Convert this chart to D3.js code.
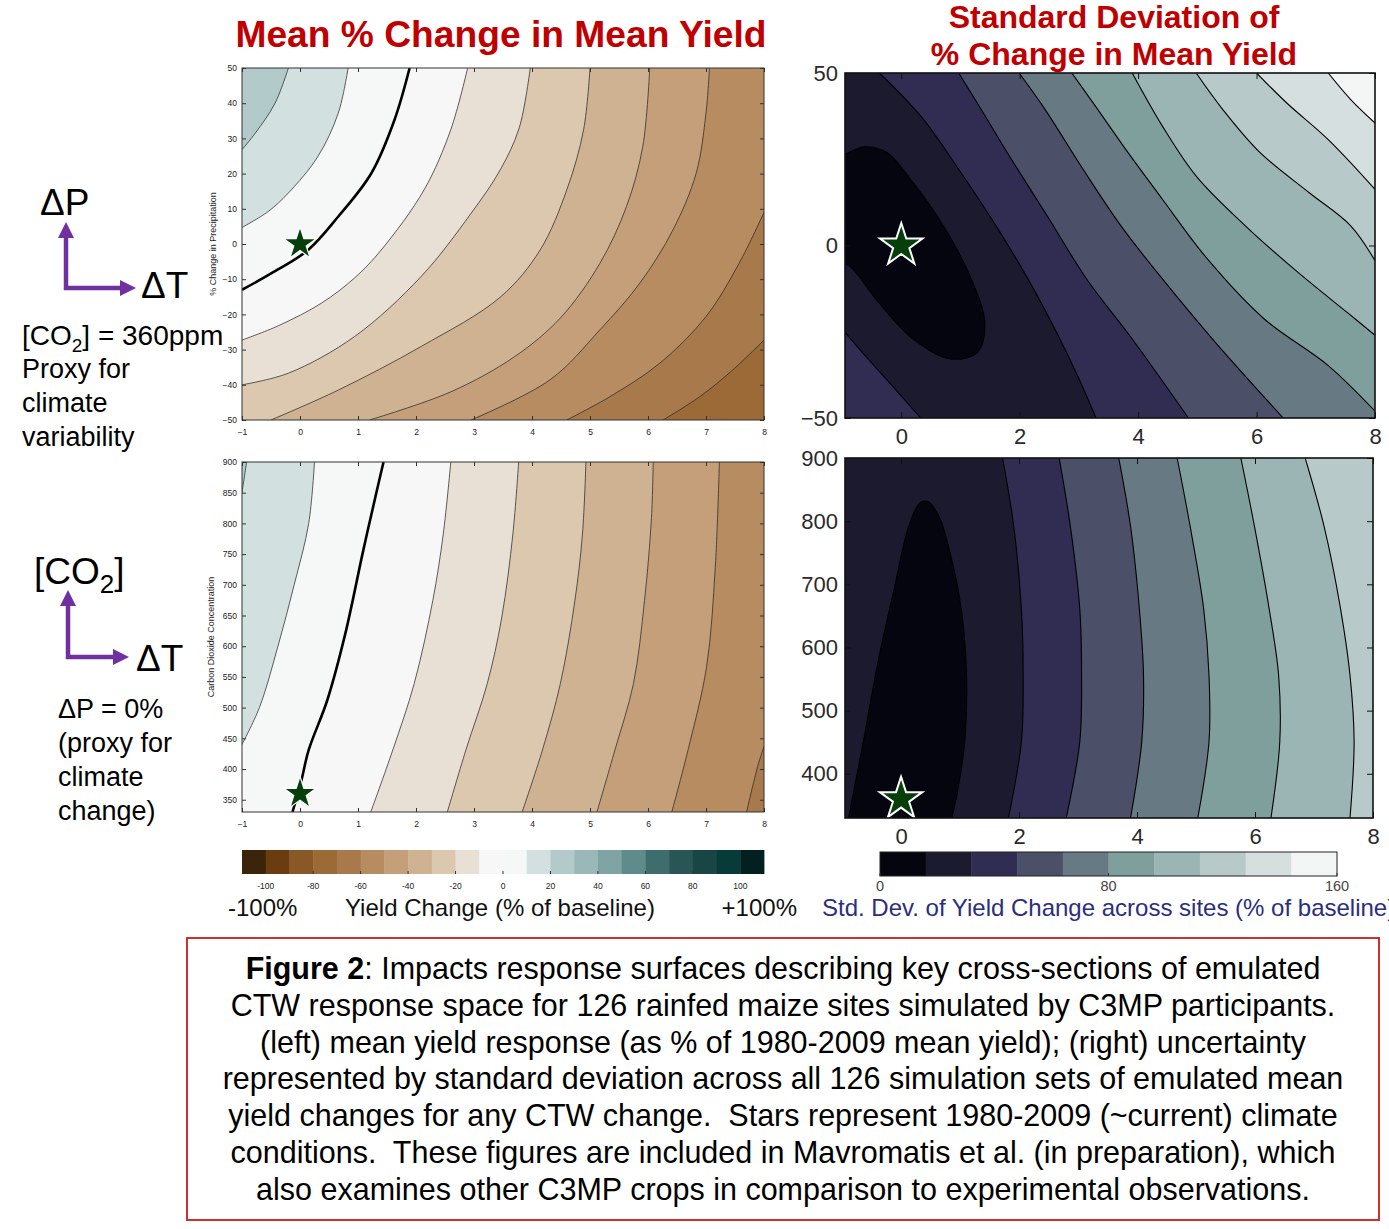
<!DOCTYPE html>
<html>
<head>
<meta charset="utf-8">
<script src="https://cdn.jsdelivr.net/npm/d3@7/dist/d3.min.js"></script>
<style>
  body { margin: 0; background: #ffffff; }
  svg { display: block; font-family: "Liberation Sans", Arial, sans-serif; }
</style>
</head>
<body>
<svg id="fig" width="1389" height="1229"></svg>
<script>
// ---------- axis ticks ----------
const meanTempTicks = [-1, 0, 1, 2, 3, 4, 5, 6, 7, 8];
const precipTicks = [-50, -40, -30, -20, -10, 0, 10, 20, 30, 40, 50];
const co2Ticks = [350, 400, 450, 500, 550, 600, 650, 700, 750, 800, 850, 900];
const sdTempTicks = [0, 2, 4, 6, 8];
const sdPrecipTicks = [-50, 0, 50];
const sdCo2Ticks = [400, 500, 600, 700, 800, 900];

// ---------- colour levels ----------
const meanLevels = [-100, -90, -80, -70, -60, -50, -40, -30, -20, -10, 0, 10, 20, 30, 40, 50, 60, 70, 80, 90, 100];
const meanPalette = ['#3b2409', '#6a3c0f', '#8a5827', '#9b6a37', '#a87a4b', '#b68c60', '#c49f79', '#cfb291',
  '#dcc8af', '#e9e0d5', '#f7f7f7', '#f6f7f7', '#d3e0e0', '#b3caca', '#9ab8b8', '#80a4a4', '#5f8b8b',
  '#3f6c6c', '#2a5555', '#1a4545', '#063b38', '#022020'];
const meanBarTicks = [-100, -80, -60, -40, -20, 0, 20, 40, 60, 80, 100];

const sdLevels = [16, 32, 48, 64, 80, 96, 112, 128, 144];
const sdPalette = ['#05050f', '#1b1a2e', '#302c52', '#4b5068', '#677a83', '#7f9f9d', '#9bb5b4',
  '#b8c9c9', '#d6dfdf', '#f4f6f6'];
const sdBarTicks = [0, 80, 160];

// current climate (1980-2009): no warming, no precipitation change, 360 ppm CO2
const baselineClimate = { dT: 0, dP: 0, co2: 360 };

// ---------- mean yield change, temperature x precipitation (CO2 = 360 ppm) ----------
const meanPrecipContours = [
  { level: 20, side: 'lowerRight', pts: [[-1, 26.8], [-0.77, 31.5], [-0.43, 40], [-0.2, 50]] },
  { level: 10, side: 'lowerRight', pts: [[-1, 4.7], [-0.55, 9.2], [-0.2, 14.5], [0.31, 24.9], [0.66, 37.2], [0.83, 50]] },
  { level: 0, side: 'lowerRight', pts: [[-1, -13], [-0.49, -8.3], [0.14, -1.7], [0.66, 7.8], [1.23, 20.1], [1.63, 35.3], [1.89, 50]] },
  { level: -10, side: 'lowerRight', pts: [[-1, -27.3], [-0.37, -23.2], [0.37, -16.8], [0.95, -9.5], [1.4, -1.7], [2.14, 15.4], [2.6, 32.5], [2.89, 50]] },
  { level: -20, side: 'lowerRight', pts: [[-1, -40], [-0.2, -36.7], [0.94, -26.3], [2.09, -9.2], [2.94, 8.5], [3.45, 21], [3.78, 33], [3.97, 50]] },
  { level: -30, side: 'lowerRight', pts: [[-0.5, -50], [0.66, -41.5], [2.09, -29.1], [3.46, -15], [4.14, -1.7], [4.6, 15.4], [4.89, 32.5], [5.0, 50]] },
  { level: -40, side: 'lowerRight', pts: [[1.2, -50], [2.6, -42], [3.7, -32], [4.49, -21], [5.17, -5.5], [5.63, 10.7], [5.91, 27.7], [6.03, 50]] },
  { level: -50, side: 'lowerRight', pts: [[2.95, -50], [4.31, -38.6], [5.17, -24.4], [5.86, -11.1], [6.43, 4], [6.83, 20.1], [7.0, 37.2], [7.06, 50]] },
  { level: -60, side: 'lowerRight', pts: [[4.6, -50], [5.34, -43.4], [6.2, -33.9], [7.0, -20.6], [7.57, -5.5], [8, 9]] },
  { level: -70, side: 'lowerRight', pts: [[6.26, -50], [6.89, -43.4], [7.46, -35.8], [8, -27.3]] }
];

// ---------- mean yield change, temperature x CO2 (no precipitation change) ----------
const meanCo2Contours = [
  { level: 20, side: 'lowerRight', pts: [[-1, 850], [-0.96, 875], [-0.92, 900]] },
  { level: 10, side: 'lowerRight', pts: [[-1, 440], [-0.7, 500], [-0.38, 600], [-0.1, 700], [0.15, 800], [0.25, 900]] },
  { level: 0, side: 'lowerRight', pts: [[-0.13, 330], [0.02, 380], [0.15, 431], [0.47, 512], [0.78, 620], [1.09, 755.7], [1.35, 863.8], [1.44, 900]] },
  { level: -10, side: 'lowerRight', pts: [[1.22, 330], [1.6, 431], [1.97, 539.5], [2.29, 674.6], [2.47, 782.7], [2.6, 900]] },
  { level: -20, side: 'lowerRight', pts: [[2.54, 330], [2.86, 431], [3.23, 539.5], [3.48, 647.6], [3.67, 782.7], [3.77, 900]] },
  { level: -30, side: 'lowerRight', pts: [[3.83, 330], [4.18, 431], [4.49, 539.5], [4.74, 674.6], [4.87, 782.7], [4.93, 900]] },
  { level: -40, side: 'lowerRight', pts: [[5.12, 330], [5.43, 431], [5.75, 539.5], [5.94, 674.6], [6.06, 809.7], [6.09, 900]] },
  { level: -50, side: 'lowerRight', pts: [[6.41, 330], [6.69, 431], [7.01, 566.5], [7.16, 728.6], [7.23, 900]] },
  { level: -60, side: 'lowerRight', pts: [[7.7, 330], [7.89, 404], [8, 437]] }
];

// ---------- std. dev. of yield change, temperature x precipitation ----------
const sdPrecipContours = [
  { level: 16, side: 'closed', pts: [[-1.4, 24], [-0.96, 26.5], [-0.62, 28.6], [-0.24, 26.9], [0.2, 18.2], [0.71, 5.7], [1.16, -8.8],
      [1.41, -22.3], [1.29, -30.9], [0.84, -32.9], [0.2, -27.1], [-0.43, -15.5], [-0.88, -5.9], [-1.4, -2]] },
  { level: 32, side: 'lowerLeft', pts: [[-1, -24.2], [-0.56, -32.9], [-0.11, -41.5], [0.33, -50]] },
  { level: 32, side: 'upperRight', pts: [[-0.37, 50], [0.33, 37.5], [0.97, 22.1], [1.6, 5.7], [2.11, -8.8], [2.62, -25.1], [3.0, -38.6], [3.29, -50]] },
  { level: 48, side: 'upperRight', pts: [[0.97, 50], [1.35, 39.4], [1.86, 25], [2.5, 7.6], [3.13, -9.7], [3.9, -27.1], [4.85, -50]] },
  { level: 64, side: 'upperRight', pts: [[1.99, 50], [2.43, 39.4], [3.07, 22.1], [3.71, 5.7], [4.41, -9.7], [5.3, -28], [6.45, -50]] },
  { level: 80, side: 'upperRight', pts: [[2.88, 50], [3.32, 39.4], [3.83, 26.9], [4.41, 13.4], [5.17, -3.9], [6.13, -21.3], [7.21, -34.8], [8, -48]] },
  { level: 96, side: 'upperRight', pts: [[3.9, 50], [4.41, 34.6], [4.98, 20.1], [5.81, 5.7], [6.7, -7.8], [7.53, -19.4], [8, -26]] },
  { level: 112, side: 'upperRight', pts: [[4.98, 50], [5.43, 39.4], [6.06, 26.9], [6.89, 15.3], [7.59, 5.7], [8, -4.4]] },
  { level: 128, side: 'upperRight', pts: [[6.0, 50], [6.51, 41.3], [7.21, 30.7], [8, 16.3]] },
  { level: 144, side: 'upperRight', pts: [[7.21, 50], [7.59, 42.3], [8, 35.5]] }
];

// ---------- std. dev. of yield change, temperature x CO2 ----------
const sdCo2Contours = [
  { level: 16, side: 'base', pts: [[-0.89, 330], [-0.64, 451], [-0.38, 582], [-0.13, 687], [0.13, 792], [0.32, 829], [0.45, 831],
      [0.64, 808], [0.83, 750], [1.02, 661], [1.11, 556], [1.08, 451], [0.96, 373], [0.86, 330]] },
  { level: 32, side: 'upperRight', pts: [[1.72, 900], [1.91, 792], [2.04, 661], [2.07, 556], [2.04, 451], [1.82, 330]] },
  { level: 48, side: 'upperRight', pts: [[2.68, 900], [2.87, 792], [3.03, 661], [3.06, 556], [3.03, 451], [2.8, 330]] },
  { level: 64, side: 'upperRight', pts: [[3.69, 900], [3.89, 792], [4.04, 661], [4.11, 556], [4.08, 451], [3.89, 330]] },
  { level: 80, side: 'upperRight', pts: [[4.68, 900], [4.9, 792], [5.13, 661], [5.22, 556], [5.22, 451], [5.03, 330]] },
  { level: 96, side: 'upperRight', pts: [[5.76, 900], [5.99, 792], [6.24, 661], [6.4, 556], [6.42, 451], [6.27, 330]] },
  { level: 112, side: 'upperRight', pts: [[6.85, 900], [7.17, 792], [7.45, 661], [7.61, 556], [7.68, 451], [7.61, 330]] }
];

// ---------- drawing ----------
const svg = d3.select('#fig');
svg.append('rect').attr('width', 1389).attr('height', 1229).attr('fill', '#ffffff');
const defs = svg.append('defs');

const meanColor = d3.scaleThreshold().domain(meanLevels).range(meanPalette);
const sdColor = d3.scaleThreshold().domain(sdLevels).range(sdPalette);

const openCurve = d3.line().curve(d3.curveCatmullRom.alpha(0.5));
const loopCurve = d3.line().curve(d3.curveCatmullRomClosed.alpha(0.5));

function contourPanel(cfg) {
  const g = svg.append('g');
  const x = d3.scaleLinear().domain(cfg.xDomain).range([cfg.left, cfg.right]);
  const y = d3.scaleLinear().domain(cfg.yDomain).range([cfg.bottom, cfg.top]);

  defs.append('clipPath').attr('id', 'clip-' + cfg.name)
    .append('rect').attr('x', cfg.left).attr('y', cfg.top)
    .attr('width', cfg.right - cfg.left).attr('height', cfg.bottom - cfg.top);
  const body = g.append('g').attr('clip-path', `url(#clip-${cfg.name})`);

  // band holding the surface's starting value
  body.append('rect').attr('x', cfg.left).attr('y', cfg.top)
    .attr('width', cfg.right - cfg.left).attr('height', cfg.bottom - cfg.top)
    .attr('fill', cfg.color(cfg.baseValue));

  const pad = 60;
  const L = cfg.left - pad, R = cfg.right + pad, T = cfg.top - pad, B = cfg.bottom + pad;
  const closers = {
    lowerRight: [[R, T], [R, B], [L, B]],
    upperRight: [[R, B], [R, T]],
    lowerLeft: [[L, B]],
    base: []
  };
  const toPx = pts => pts.map(([a, b]) => [x(a), y(b)]);

  // filled bands, painted from the outside in
  cfg.contours.forEach(c => {
    const px = toPx(c.pts);
    const d = c.side === 'closed'
      ? loopCurve(px)
      : openCurve(px) + closers[c.side].map(p => `L${p[0]},${p[1]}`).join('') + 'Z';
    const inward = (c.side === 'closed' || c.side === 'base') ? -1 : cfg.fillDir;
    body.append('path').attr('d', d)
      .attr('fill', cfg.color(c.level + inward * cfg.step / 2));
  });

  // contour lines
  cfg.contours.forEach(c => {
    const px = toPx(c.pts);
    const bold = c.level === cfg.boldLevel;
    body.append('path')
      .attr('d', c.side === 'closed' ? loopCurve(px) : openCurve(px))
      .attr('fill', 'none')
      .attr('stroke', bold ? '#000' : cfg.lineColor)
      .attr('stroke-width', bold ? 2.6 : cfg.lineWidth)
      .attr('stroke-linejoin', 'round');
  });

  // star for present-day climate
  const star = cfg.star;
  g.append('path')
    .attr('d', d3.symbol().type(d3.symbolStar).size(cfg.starSize)())
    .attr('transform', `translate(${x(star[0])},${y(star[1])})`)
    .attr('fill', '#063f0a')
    .attr('stroke', '#ffffff')
    .attr('stroke-width', cfg.starStroke)
    .attr('stroke-linejoin', 'miter');

  // axes with inward ticks on all four sides
  const axes = g.append('g').attr('class', 'axes');
  const styleAxis = sel => {
    sel.select('.domain').remove();
    sel.selectAll('line').attr('stroke', cfg.frameColor).attr('stroke-width', 1);
    sel.selectAll('text').attr('fill', cfg.labelColor).attr('font-size', cfg.labelSize)
      .attr('font-family', cfg.labelFont);
  };
  axes.append('g').attr('transform', `translate(0,${cfg.bottom})`)
    .call(d3.axisBottom(x).tickValues(cfg.xTicks).tickSizeInner(-cfg.tick).tickSizeOuter(0).tickPadding(cfg.xPad))
    .call(styleAxis);
  axes.append('g').attr('transform', `translate(0,${cfg.top})`)
    .call(d3.axisTop(x).tickValues(cfg.xTicks).tickSizeInner(-cfg.tick).tickSizeOuter(0).tickFormat(() => ''))
    .call(styleAxis);
  axes.append('g').attr('transform', `translate(${cfg.left},0)`)
    .call(d3.axisLeft(y).tickValues(cfg.yTicks).tickSizeInner(-cfg.tick).tickSizeOuter(0).tickPadding(cfg.yPad))
    .call(styleAxis);
  axes.append('g').attr('transform', `translate(${cfg.right},0)`)
    .call(d3.axisRight(y).tickValues(cfg.yTicks).tickSizeInner(-cfg.tick).tickSizeOuter(0).tickFormat(() => ''))
    .call(styleAxis);

  g.append('rect').attr('x', cfg.left).attr('y', cfg.top)
    .attr('width', cfg.right - cfg.left).attr('height', cfg.bottom - cfg.top)
    .attr('fill', 'none').attr('stroke', cfg.frameColor).attr('stroke-width', cfg.frameWidth);

  if (cfg.yTitle) {
    g.append('text')
      .attr('transform', `translate(${cfg.yTitleX},${(cfg.top + cfg.bottom) / 2}) rotate(-90)`)
      .attr('text-anchor', 'middle').attr('font-size', 9).attr('fill', '#222')
      .text(cfg.yTitle);
  }
  return { x, y };
}

const leftStyle = {
  color: meanColor, step: 10, fillDir: -1, boldLevel: 0,
  lineColor: '#2a2a2a', lineWidth: 0.75,
  frameColor: '#333', frameWidth: 1, tick: 4,
  labelColor: '#1a1a1a', labelSize: 8.5, labelFont: '"Liberation Sans", Arial, sans-serif',
  xPad: 9, yPad: 5, starSize: 330, starStroke: 1.2, baseValue: 25
};
const rightStyle = {
  color: sdColor, step: 16, fillDir: 1, boldLevel: null,
  lineColor: '#000', lineWidth: 1.1,
  frameColor: '#111', frameWidth: 1.6, tick: 6,
  labelColor: '#2a2a2a', labelSize: 22, labelFont: '"Liberation Sans Narrow", "Liberation Sans", Arial, sans-serif',
  xPad: 10, yPad: 7, starSize: 560, starStroke: 2, baseValue: 24
};

contourPanel(Object.assign({}, leftStyle, {
  name: 'meanP', left: 242, right: 764, top: 68, bottom: 420,
  xDomain: [-1, 8], yDomain: [-50, 50], xTicks: meanTempTicks, yTicks: precipTicks,
  contours: meanPrecipContours, star: [baselineClimate.dT, baselineClimate.dP],
  yTitle: '% Change in Precipitation', yTitleX: 216
}));
contourPanel(Object.assign({}, leftStyle, {
  name: 'meanC', left: 242, right: 764, top: 462, bottom: 812,
  xDomain: [-1, 8], yDomain: [330, 900], xTicks: meanTempTicks, yTicks: co2Ticks,
  contours: meanCo2Contours, star: [baselineClimate.dT, baselineClimate.co2],
  yTitle: 'Carbon Dioxide Concentration', yTitleX: 214
}));
contourPanel(Object.assign({}, rightStyle, {
  name: 'sdP', left: 845, right: 1375, top: 73, bottom: 418,
  xDomain: [-0.95, 8], yDomain: [-50, 50], xTicks: sdTempTicks, yTicks: sdPrecipTicks,
  contours: sdPrecipContours, star: [baselineClimate.dT, baselineClimate.dP]
}));
contourPanel(Object.assign({}, rightStyle, {
  name: 'sdC', left: 845, right: 1373, top: 458, bottom: 818,
  xDomain: [-0.95, 8], yDomain: [330, 900], xTicks: sdTempTicks, yTicks: sdCo2Ticks,
  contours: sdCo2Contours, star: [baselineClimate.dT, baselineClimate.co2]
}));

// ---------- colour bars ----------
function colorBar(cfg) {
  const g = svg.append('g');
  const x = d3.scaleLinear().domain(cfg.domain).range([cfg.left, cfg.right]);
  if (cfg.mask) {
    g.append('rect').attr('x', cfg.left - 25).attr('y', cfg.top - 5)
      .attr('width', cfg.right - cfg.left + 50).attr('height', 5).attr('fill', '#fff');
  }
  const edges = [cfg.domain[0]].concat(cfg.levels, [cfg.domain[1]]);
  g.selectAll('rect.box').data(d3.pairs(edges)).join('rect').attr('class', 'box')
    .attr('x', d => x(d[0])).attr('y', cfg.top)
    .attr('width', d => x(d[1]) - x(d[0]) + 0.4).attr('height', cfg.height)
    .attr('fill', d => cfg.color((d[0] + d[1]) / 2));
  if (cfg.border) {
    g.append('rect').attr('x', cfg.left).attr('y', cfg.top)
      .attr('width', cfg.right - cfg.left).attr('height', cfg.height)
      .attr('fill', 'none').attr('stroke', '#222').attr('stroke-width', 1);
  }
  g.selectAll('line.tk').data(cfg.ticks).join('line').attr('class', 'tk')
    .attr('x1', d => x(d)).attr('x2', d => x(d))
    .attr('y1', cfg.top + cfg.height - 3).attr('y2', cfg.top + cfg.height)
    .attr('stroke', '#333').attr('stroke-width', 1);
  g.selectAll('text.tl').data(cfg.ticks).join('text').attr('class', 'tl')
    .attr('x', d => x(d)).attr('y', cfg.labelY)
    .attr('text-anchor', 'middle').attr('font-size', cfg.labelSize).attr('fill', cfg.labelColor)
    .text(d => d);
}

colorBar({ domain: [-110, 110], levels: meanLevels, color: meanColor, ticks: meanBarTicks,
  left: 242, right: 764, top: 850, height: 24, labelY: 889, labelSize: 8.5, labelColor: '#222' });
colorBar({ domain: [0, 160], levels: sdLevels, color: sdColor, ticks: sdBarTicks, border: true, mask: true,
  left: 880, right: 1337, top: 852, height: 24, labelY: 891, labelSize: 14.5, labelColor: '#444' });

// ---------- titles ----------
const red = '#c00000';
svg.append('text').attr('x', 501).attr('y', 47).attr('text-anchor', 'middle')
  .attr('font-size', 37.2).attr('font-weight', 'bold').attr('fill', red)
  .text('Mean % Change in Mean Yield');
svg.append('text').attr('x', 1114).attr('y', 28).attr('text-anchor', 'middle')
  .attr('font-size', 32).attr('font-weight', 'bold').attr('fill', red)
  .text('Standard Deviation of');
svg.append('text').attr('x', 1114).attr('y', 65).attr('text-anchor', 'middle')
  .attr('font-size', 32).attr('font-weight', 'bold').attr('fill', red)
  .text('% Change in Mean Yield');

// ---------- colour bar captions ----------
svg.append('text').attr('x', 228).attr('y', 916).attr('font-size', 24).attr('fill', '#111').text('-100%');
svg.append('text').attr('x', 345).attr('y', 916).attr('font-size', 24).attr('fill', '#111').text('Yield Change (% of baseline)');
svg.append('text').attr('x', 797).attr('y', 916).attr('text-anchor', 'end').attr('font-size', 24).attr('fill', '#111').text('+100%');
svg.append('text').attr('x', 822).attr('y', 916).attr('font-size', 24).attr('fill', '#2b2e80')
  .text('Std. Dev. of Yield Change across sites (% of baseline)');

// ---------- axis key annotations ----------
const purple = '#7030a0';
function axisKey(ox, oy, upTip, rightTip) {
  const k = svg.append('g');
  k.append('path').attr('d', `M${ox},${upTip + 14}V${oy}H${rightTip - 14}`)
    .attr('fill', 'none').attr('stroke', purple).attr('stroke-width', 4.5);
  k.append('path').attr('d', `M${ox},${upTip}L${ox - 8},${upTip + 16}L${ox + 8},${upTip + 16}Z`).attr('fill', purple);
  k.append('path').attr('d', `M${rightTip},${oy}L${rightTip - 16},${oy - 8}L${rightTip - 16},${oy + 8}Z`).attr('fill', purple);
}
axisKey(66, 288, 222, 136);
axisKey(68, 657, 590, 129);

function label(x, y, size, parts) {
  const t = svg.append('text').attr('x', x).attr('y', y).attr('font-size', size).attr('fill', '#000');
  parts.forEach(p => {
    if (typeof p === 'string') t.append('tspan').text(p);
    else t.append('tspan').attr('dy', p.dy).attr('font-size', p.size).text(p.text);
  });
  return t;
}
label(40, 215, 37, ['\u0394P']);
label(141, 298, 37, ['\u0394T']);
label(22, 345, 28, ['[CO', { text: '2', dy: 7, size: 19 }, { text: '] = 360ppm', dy: -7, size: 28 }]);
label(22, 378, 27, ['Proxy for']);
label(22, 412, 27, ['climate']);
label(22, 446, 27, ['variability']);

label(34, 584, 37, ['[CO', { text: '2', dy: 9, size: 26 }, { text: ']', dy: -9, size: 37 }]);
label(136, 671, 37, ['\u0394T']);
label(58, 718, 27, ['\u0394P = 0%']);
label(58, 752, 27, ['(proxy for']);
label(58, 786, 27, ['climate']);
label(58, 820, 27, ['change)']);

// ---------- figure caption ----------
svg.append('rect').attr('x', 187).attr('y', 938).attr('width', 1192).attr('height', 282)
  .attr('fill', 'none').attr('stroke', '#cc1a1a').attr('stroke-width', 1.8);
const captionLines = [
  [{ b: true, t: 'Figure 2' }, { t: ': Impacts response surfaces describing key cross-sections of emulated' }],
  [{ t: 'CTW response space for 126 rainfed maize sites simulated by C3MP participants.' }],
  [{ t: '(left) mean yield response (as % of 1980-2009 mean yield); (right) uncertainty' }],
  [{ t: 'represented by standard deviation across all 126 simulation sets of emulated mean' }],
  [{ t: 'yield changes for any CTW change.  Stars represent 1980-2009 (~current) climate' }],
  [{ t: 'conditions.  These figures are included in Mavromatis et al. (in preparation), which' }],
  [{ t: 'also examines other C3MP crops in comparison to experimental observations.' }]
];
captionLines.forEach((line, i) => {
  const t = svg.append('text').attr('x', 783).attr('y', 979 + i * 36.8)
    .attr('text-anchor', 'middle').attr('font-size', 30.5).attr('fill', '#000')
    .style('white-space', 'pre');
  line.forEach(seg => {
    t.append('tspan').attr('font-weight', seg.b ? 'bold' : null).text(seg.t);
  });
});
</script>
</body>
</html>
